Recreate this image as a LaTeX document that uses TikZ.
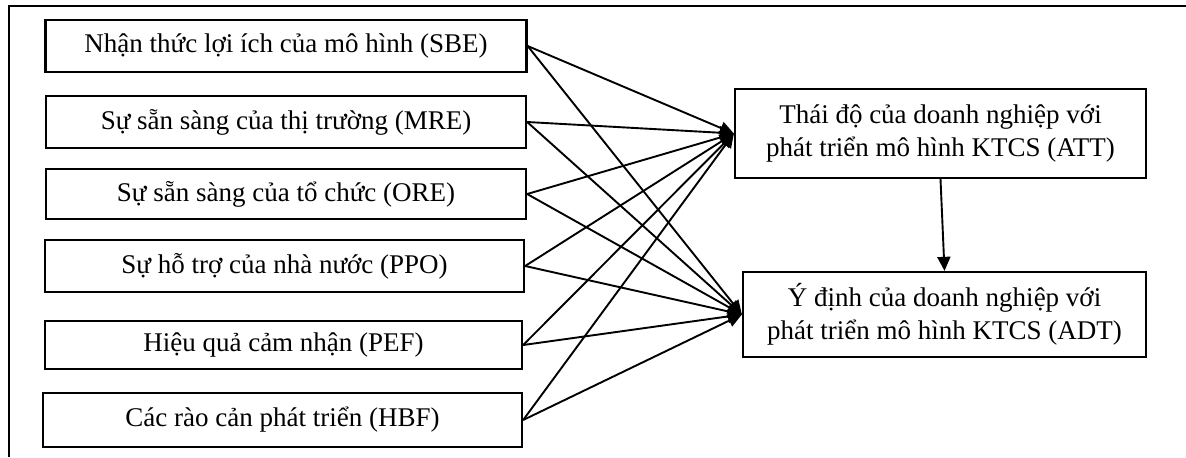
\documentclass[tikz,border=0pt]{standalone}
\usepackage{fontspec}
\setmainfont{Liberation Serif}
\usetikzlibrary{arrows.meta,positioning}
\tikzset{
	model/.style={
		x=0.5pt, y=-0.5pt,
		every node/.style={font=\fontsize{13.5}{16.5}\selectfont},
		ar/.style={-{Triangle[length=7pt,width=6.5pt]}, line width=0.95pt},
		},
	factor/.style={draw, line width=1.15pt, inner sep=0pt, minimum width=240pt, minimum height=26pt},
	construct/.style={draw, line width=1.15pt, inner sep=0pt, align=center, minimum height=43pt},
}

\begin{document}
\begin{tikzpicture}[model]
  \useasboundingbox (0,0) rectangle (1186,457);
  % khung ngoai
  \draw[line width=0.8pt] (9,457) -- (9,6) -- (1186,6);
  % cac nhan to
  \node[factor, minimum width=240.5pt] (SBE) at (286,46)  {Nhận thức lợi ích của mô hình (SBE)};
  \node[factor] (MRE) at (286,122) {Sự sẵn sàng của thị trường (MRE)};
  \node[factor, minimum height=25pt] (ORE) at (286,194) {Sự sẵn sàng của tổ chức (ORE)};
  \node[factor, minimum width=239.5pt] (PPO) at (284.5,266) {Sự hỗ trợ của nhà nước (PPO)};
  \node[factor, minimum width=238.5pt, minimum height=24pt] (PEF) at (283.5,345) {Hiệu quả cảm nhận (PEF)};
  \node[factor, minimum width=239.5pt, minimum height=27pt] (HBF) at (282.5,420) {Các rào cản phát triển (HBF)};
  \node[construct, minimum width=205.5pt, minimum height=44.5pt] (ATT) at (940.5,133.5)
        {Thái độ của doanh nghiệp với\\ phát triển mô hình KTCS (ATT)};
  \node[construct, minimum width=201.5pt, minimum height=42.5pt] (ADT) at (944.5,314.5)
        {Ý định của doanh nghiệp với\\ phát triển mô hình KTCS (ADT)};
  % cac duong noi
  \foreach \f in {SBE,MRE,ORE,PPO,PEF,HBF} {
    \draw[ar] (\f.east) -- (ATT.west);
    \draw[ar] (\f.east) -- (ADT.west);
  }
  \draw[ar] (ATT.south) -- (ADT.north);
\end{tikzpicture}
\end{document}
